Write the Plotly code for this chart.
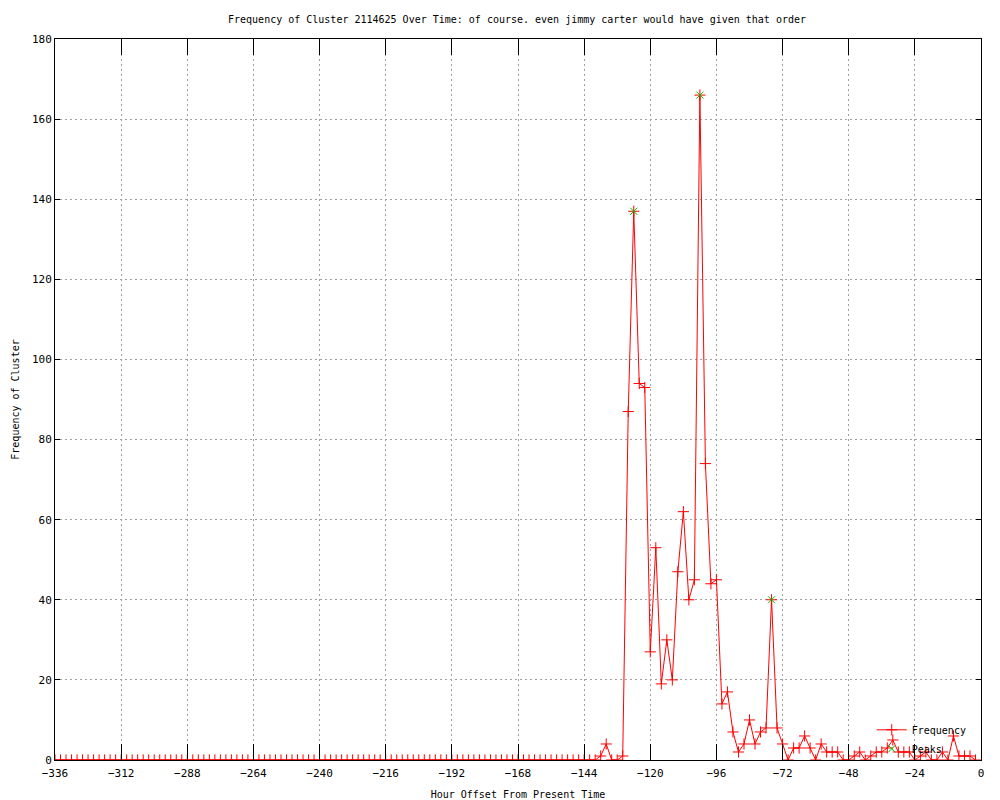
import plotly.graph_objects as go

# hour offsets, one sample every 2 hours
hours = list(range(-336, 0, 2))

freq = [0, 0, 0, 0, 0, 0, 0, 0, 0, 0, 0, 0, 0, 0, 0, 0, 0, 0, 0, 0,   # -336 .. -298
        0, 0, 0, 0, 0, 0, 0, 0, 0, 0, 0, 0, 0, 0, 0, 0, 0, 0, 0, 0,   # -296 .. -258
        0, 0, 0, 0, 0, 0, 0, 0, 0, 0, 0, 0, 0, 0, 0, 0, 0, 0, 0, 0,   # -256 .. -218
        0, 0, 0, 0, 0, 0, 0, 0, 0, 0, 0, 0, 0, 0, 0, 0, 0, 0, 0, 0,   # -216 .. -178
        0, 0, 0, 0, 0, 0, 0, 0, 0, 0, 0, 0, 0, 0, 0, 0, 0, 0, 0,      # -176 .. -140
        1, 4, 0, 0, 1, 87, 137, 94, 93, 27,                           # -138 .. -120
        53, 19, 30, 20, 47, 62, 40, 45, 166, 74,                      # -118 .. -100
        44, 45, 14, 17, 7, 2, 4, 10, 4, 7,                            # -98 .. -80
        8, 40, 8, 4, 0, 3, 3, 6, 3, 0,                                # -78 .. -60
        4, 2, 2, 2, 0, 0, 1, 2, 0, 1,                                 # -58 .. -40
        2, 2, 3, 5, 2, 2, 2, 0, 1, 2,                                 # -38 .. -20
        0, 0, 2, 0, 6, 1, 1, 1, 0]                                    # -18 .. -2

peak_hours = [-126, -102, -76]
peak_values = [137, 166, 40]

x_ticks = [-336, -312, -288, -264, -240, -216, -192, -168, -144, -120, -96, -72, -48, -24, 0]
y_ticks = [0, 20, 40, 60, 80, 100, 120, 140, 160, 180]

font = 'DejaVu Sans Mono'

fig = go.Figure()
fig.add_trace(go.Scatter(
    x=hours, y=freq, name='Frequency', mode='lines+markers',
    line=dict(color='#ff0000', width=1),
    marker=dict(symbol='cross-thin', size=8, color='#ff0000',
                line=dict(color='#ff0000', width=1))))
fig.add_trace(go.Scatter(
    x=peak_hours, y=peak_values, name='Peaks', mode='markers',
    marker=dict(symbol='x-thin', size=7, color='#00c000',
                line=dict(color='#00c000', width=1))))

axis_common = dict(showline=True, linecolor='black', linewidth=1, mirror='ticks',
                   ticks='inside', tickcolor='black', tickwidth=1,
                   showgrid=True, gridcolor='#a0a0a0', griddash='2px,3px', gridwidth=1,
                   zeroline=False, automargin=False,
                   tickfont=dict(family=font, size=11, color='black'))

fig.update_xaxes(range=[-336, 0], tickvals=x_ticks, ticklen=16, ticklabelstandoff=3,
                 title=dict(text='Hour Offset From Present Time',
                            font=dict(family=font, size=10, color='black'), standoff=16),
                 **axis_common)
fig.update_yaxes(range=[0, 180], tickvals=y_ticks, ticklen=5,
                 title=dict(text='Frequency of Cluster',
                            font=dict(family=font, size=10, color='black'), standoff=10),
                 **axis_common)

fig.update_layout(
    width=1000, height=800,
    margin=dict(l=55, r=19, t=39, b=40),
    paper_bgcolor='white', plot_bgcolor='white',
    title=dict(text='Frequency of Cluster 2114625 Over Time: of course. even jimmy carter would have given that order',
               x=0.517, xanchor='center', y=0.976, yanchor='middle',
               font=dict(family=font, size=10, color='black')),
    legend=dict(x=0.99, y=0.062, xanchor='right', yanchor='top',
                bgcolor='rgba(0,0,0,0)', font=dict(family=font, size=10, color='black'),
                tracegroupgap=0, itemwidth=30),
    showlegend=True)

# drop the page's default body margin so the figure sits at the window's corner
fig.write_html("out.html", config={'displayModeBar': False},
               post_script="document.body.style.margin='0';")
